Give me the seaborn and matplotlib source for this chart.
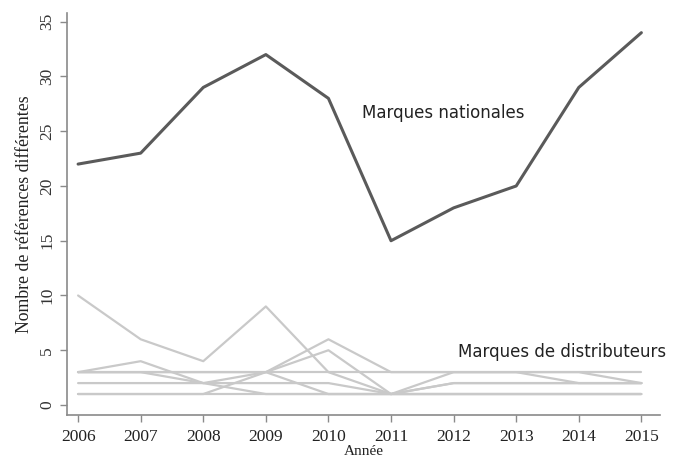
import matplotlib
matplotlib.use("Agg")
import matplotlib.pyplot as plt
import seaborn as sns
import pandas as pd

# Années et nombre de références
annees = list(range(2006, 2016))
marques_nationales = [22, 23, 29, 32, 28, 15, 18, 20, 29, 34]

# Marques de distributeurs (une ligne par enseigne)
mdd = {
    "MDD1": [10, 6, 4, 9, 3, 1, 2, 2, 2, 2],
    "MDD2": [3, 3, 3, 3, 3, 3, 3, 3, 3, 3],
    "MDD3": [3, 4, 2, 3, 6, 3, 3, 3, 3, 2],
    "MDD4": [3, 3, 3, 3, 1, 1, 1, 1, 1, 1],
    "MDD5": [3, 3, 2, 1, 1, 1, 1, 1, 1, 1],
    "MDD6": [1, 1, 1, 3, 5, 1, 3, 3, 2, 2],
    "MDD7": [2, 2, 2, 2, 2, 1, 2, 2, 2, 2],
    "MDD8": [1, 1, 1, 1, 1, 1, 1, 1, 1, 1],
}

df_mn = pd.DataFrame({"annee": annees, "nombre": marques_nationales})
df_mdd = pd.DataFrame(
    [(nom, a, v) for nom, vals in mdd.items() for a, v in zip(annees, vals)],
    columns=["serie", "annee", "nombre"],
)

sns.set_style("ticks")
fig = plt.figure(figsize=(6.75, 4.63), dpi=100)
ax = fig.add_axes([0.099, 0.104, 0.879, 0.868])

sns.lineplot(data=df_mdd, x="annee", y="nombre", units="serie", estimator=None,
             color="#c9c9c9", linewidth=1.6, ax=ax)
sns.lineplot(data=df_mn, x="annee", y="nombre", color="#5a5a5a",
             linewidth=2.2, ax=ax)

ax.set_xlim(2005.82, 2015.3)
ax.set_ylim(-0.9, 35.8)
ax.set_xticks(annees)
ax.set_yticks(range(0, 36, 5))

serif = ["Liberation Serif", "DejaVu Serif"]
ax.set_xticklabels([str(a) for a in annees], family=serif, fontsize=12.5,
                   color="#222222")
ax.set_yticklabels([str(v) for v in range(0, 36, 5)], family=serif, fontsize=12.5,
                   color="#333333", rotation=90, va="center")
ax.set_xlabel("Année", family=serif, fontsize=11, color="#222222", labelpad=0)
ax.set_ylabel("Nombre de références différentes", family=serif, fontsize=12.8,
              color="#222222", labelpad=4)

for side in ["top", "right"]:
    ax.spines[side].set_visible(False)
for side in ["left", "bottom"]:
    ax.spines[side].set_color("#8a8a8a")
    ax.spines[side].set_linewidth(1.2)
ax.tick_params(axis="both", colors="#8a8a8a", length=5, width=1.0)
ax.tick_params(axis="x", pad=5, labelcolor="#222222")
ax.tick_params(axis="y", labelcolor="#333333")

ax.text(2010.54, 26.7, "Marques nationales", fontsize=12, color="#222222",
        va="center", ha="left", family=["DejaVu Sans"])
ax.text(2012.07, 4.85, "Marques de distributeurs", fontsize=12, color="#222222",
        va="center", ha="left", family=["DejaVu Sans"])

fig.savefig("out.png", dpi=100)
